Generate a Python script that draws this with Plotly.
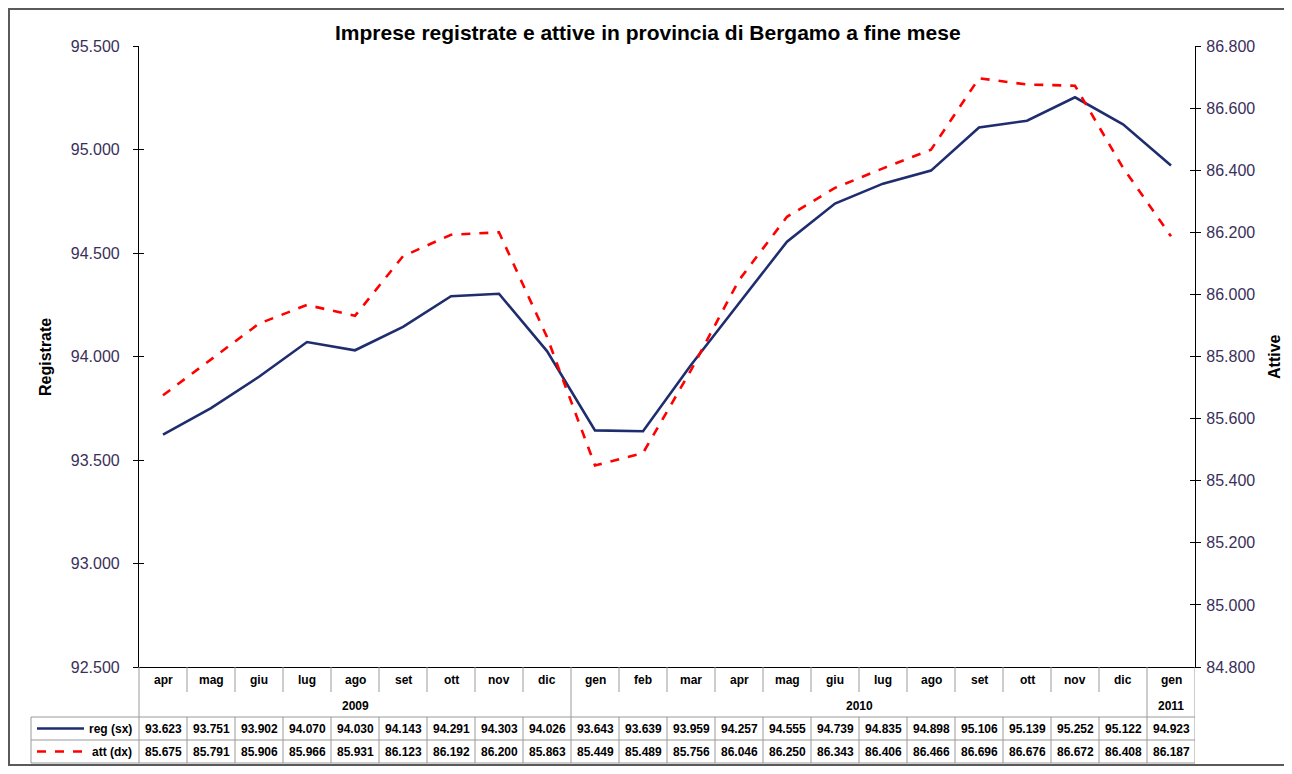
import plotly.graph_objects as go

months = ["apr", "mag", "giu", "lug", "ago", "set", "ott", "nov", "dic",
          "gen", "feb", "mar", "apr", "mag", "giu", "lug", "ago", "set", "ott", "nov", "dic",
          "gen"]
years = ["2009", "2010", "2011"]
year_counts = [9, 12, 1]
reg = [93623, 93751, 93902, 94070, 94030, 94143, 94291, 94303, 94026,
       93643, 93639, 93959, 94257, 94555, 94739, 94835, 94898, 95106, 95139, 95252, 95122,
       94923]
att = [85675, 85791, 85906, 85966, 85931, 86123, 86192, 86200, 85863,
       85449, 85489, 85756, 86046, 86250, 86343, 86406, 86466, 86696, 86676, 86672, 86408,
       86187]
reg_range = [92500, 95500]
att_range = [84800, 86800]
title = "Imprese registrate e attive in provincia di Bergamo a fine mese"

W, H = 1292, 774
OFF = 8  # page body margin
L, R, T, B = 139, 1195, 46, 667
NAVY = "#1F2D6E"
RED = "#FF0000"
GRID = "#9A9A9A"
FONT = "Liberation Sans, Arial, sans-serif"
TICKCOL = "#3a2f5a"

def py(p):
    return (B - p) / (B - T)

def px(p):
    return (p - L) / (R - L)

def fmt(v):
    return f"{v:,}".replace(",", ".")

n = len(months)
xs = list(range(n))

fig = go.Figure()
fig.add_trace(go.Scatter(x=xs, y=reg, mode="lines", name="reg (sx)",
                         line=dict(color=NAVY, width=2.6), yaxis="y"))
fig.add_trace(go.Scatter(x=xs, y=att, mode="lines", name="att (dx)",
                         line=dict(color=RED, width=2.6, dash="dash"), yaxis="y2"))
# dummy traces for inner half of cross ticks
fig.add_trace(go.Scatter(x=[None], y=[None], yaxis="y3", showlegend=False, hoverinfo="skip"))
fig.add_trace(go.Scatter(x=[None], y=[None], yaxis="y4", showlegend=False, hoverinfo="skip"))

shapes = []
annotations = []

# table: month row, year row, data rows
y_top, y_mon, y_year, y_reg, y_att = 667, 692, 717, 740, 763
for yl in [y_year, y_reg, y_att]:
    shapes.append(dict(type="line", xref="x", yref="paper", x0=-0.5, x1=n - 0.5,
                       y0=py(yl), y1=py(yl), line=dict(color=GRID, width=1)))
for yl in [y_year, y_reg, y_att]:
    shapes.append(dict(type="line", xref="paper", yref="paper", x0=px(31), x1=0,
                       y0=py(yl), y1=py(yl), line=dict(color=GRID, width=1)))
shapes.append(dict(type="line", xref="paper", yref="paper", x0=px(31), x1=px(31),
                   y0=py(y_year), y1=py(y_att), line=dict(color=GRID, width=1)))
shapes.append(dict(type="line", xref="paper", yref="paper", x0=0, x1=0,
                   y0=0, y1=py(y_att), line=dict(color=GRID, width=1)))
year_edges = []
acc = 0
for c in year_counts:
    acc += c
    year_edges.append(acc)
for i in range(1, n + 1):
    xe = i - 0.5
    full = i in year_edges
    shapes.append(dict(type="line", xref="x", yref="paper", x0=xe, x1=xe,
                       y0=0, y1=py(y_att) if full else py(y_mon),
                       line=dict(color=GRID, width=1)))
    if not full:
        shapes.append(dict(type="line", xref="x", yref="paper", x0=xe, x1=xe,
                           y0=py(y_year), y1=py(y_att), line=dict(color=GRID, width=1)))

tfont = dict(family=FONT, size=12, color="#000000")
for i in range(n):
    annotations.append(dict(x=i, y=py((y_top + y_mon) / 2), xref="x", yref="paper",
                            yanchor="middle", xanchor="center",
                            text=f"<b>{months[i]}</b>", showarrow=False, font=tfont))
    annotations.append(dict(x=i, y=py((y_year + y_reg) / 2), xref="x", yref="paper",
                            yanchor="middle", xanchor="center",
                            text=f"<b>{fmt(reg[i])}</b>", showarrow=False, font=tfont))
    annotations.append(dict(x=i, y=py((y_reg + y_att) / 2), xref="x", yref="paper",
                            yanchor="middle", xanchor="center",
                            text=f"<b>{fmt(att[i])}</b>", showarrow=False, font=tfont))
start = 0
for yr, c in zip(years, year_counts):
    annotations.append(dict(x=start + (c - 1) / 2, y=py((y_mon + y_year) / 2 + 1), xref="x", yref="paper",
                            yanchor="middle", xanchor="center",
                            text=f"<b>{yr}</b>", showarrow=False, font=tfont))
    start += c

for name, col, dash, (ya, yb) in [("reg (sx)", NAVY, "solid", (y_year, y_reg)),
                                   ("att (dx)", RED, "dash", (y_reg, y_att))]:
    yc = py((ya + yb) / 2)
    shapes.append(dict(type="line", xref="paper", yref="paper", x0=px(37), x1=px(84),
                       y0=yc, y1=yc, line=dict(color=col, width=2.6, dash=dash)))
    annotations.append(dict(x=px(134), y=yc, xref="paper", yref="paper", xanchor="right",
                            yanchor="middle",
                            text=f"<b>{name}</b>", showarrow=False, font=tfont))

# outer border
shapes.append(dict(type="rect", xref="paper", yref="paper", x0=px(9), x1=px(1285),
                   y0=py(765), y1=py(9), line=dict(color="#5a5a5a", width=2)))

annotations.append(dict(x=px(45), y=py(357), xref="paper", yref="paper", text="<b>Registrate</b>",
                        xanchor="center", yanchor="middle",
                        textangle=-90, showarrow=False, font=dict(family=FONT, size=16, color="#000")))
annotations.append(dict(x=px(1274), y=py(357), xref="paper", yref="paper", text="<b>Attive</b>",
                        xanchor="center", yanchor="middle",
                        textangle=-90, showarrow=False, font=dict(family=FONT, size=16, color="#000")))
annotations.append(dict(x=px(648), y=py(33), xref="paper", yref="paper", text=f"<b>{title}</b>",
                        xanchor="center", yanchor="middle",
                        showarrow=False, font=dict(family=FONT, size=21, color="#000")))

axis_common = dict(showgrid=False, zeroline=False, showline=True, linecolor="#000", linewidth=1.2,
                   ticks="outside", ticklen=5, tickcolor="#000", tickwidth=1.2,
                   tickfont=dict(family=FONT, size=16, color=TICKCOL), tickformat=",d")

fig.update_layout(
    width=W - 2 * OFF, height=H - 2 * OFF,
    margin=dict(l=L - OFF, r=(W - OFF) - R, t=T - OFF, b=(H - OFF) - B, pad=0),
    paper_bgcolor="white", plot_bgcolor="white",
    separators=",.",
    showlegend=False,
    xaxis=dict(range=[-0.5, n - 0.5], showgrid=False, zeroline=False, showticklabels=False,
               ticks="", showline=True, linecolor="#000", linewidth=1.2, mirror=False),
    yaxis=dict(range=reg_range, dtick=500, side="left", ticklabelstandoff=10, **axis_common),
    yaxis2=dict(range=att_range, dtick=200, side="right", overlaying="y", ticklabelstandoff=2,
                **axis_common),
    yaxis3=dict(range=reg_range, dtick=500, side="left", overlaying="y", showgrid=False,
                zeroline=False, showline=False, ticks="inside", ticklen=5, tickcolor="#000",
                tickwidth=1.2, showticklabels=False),
    yaxis4=dict(range=att_range, dtick=200, side="right", overlaying="y", showgrid=False,
                zeroline=False, showline=False, ticks="inside", ticklen=5, tickcolor="#000",
                tickwidth=1.2, showticklabels=False),
    shapes=shapes,
    annotations=annotations,
)

fig.write_html("out.html")
